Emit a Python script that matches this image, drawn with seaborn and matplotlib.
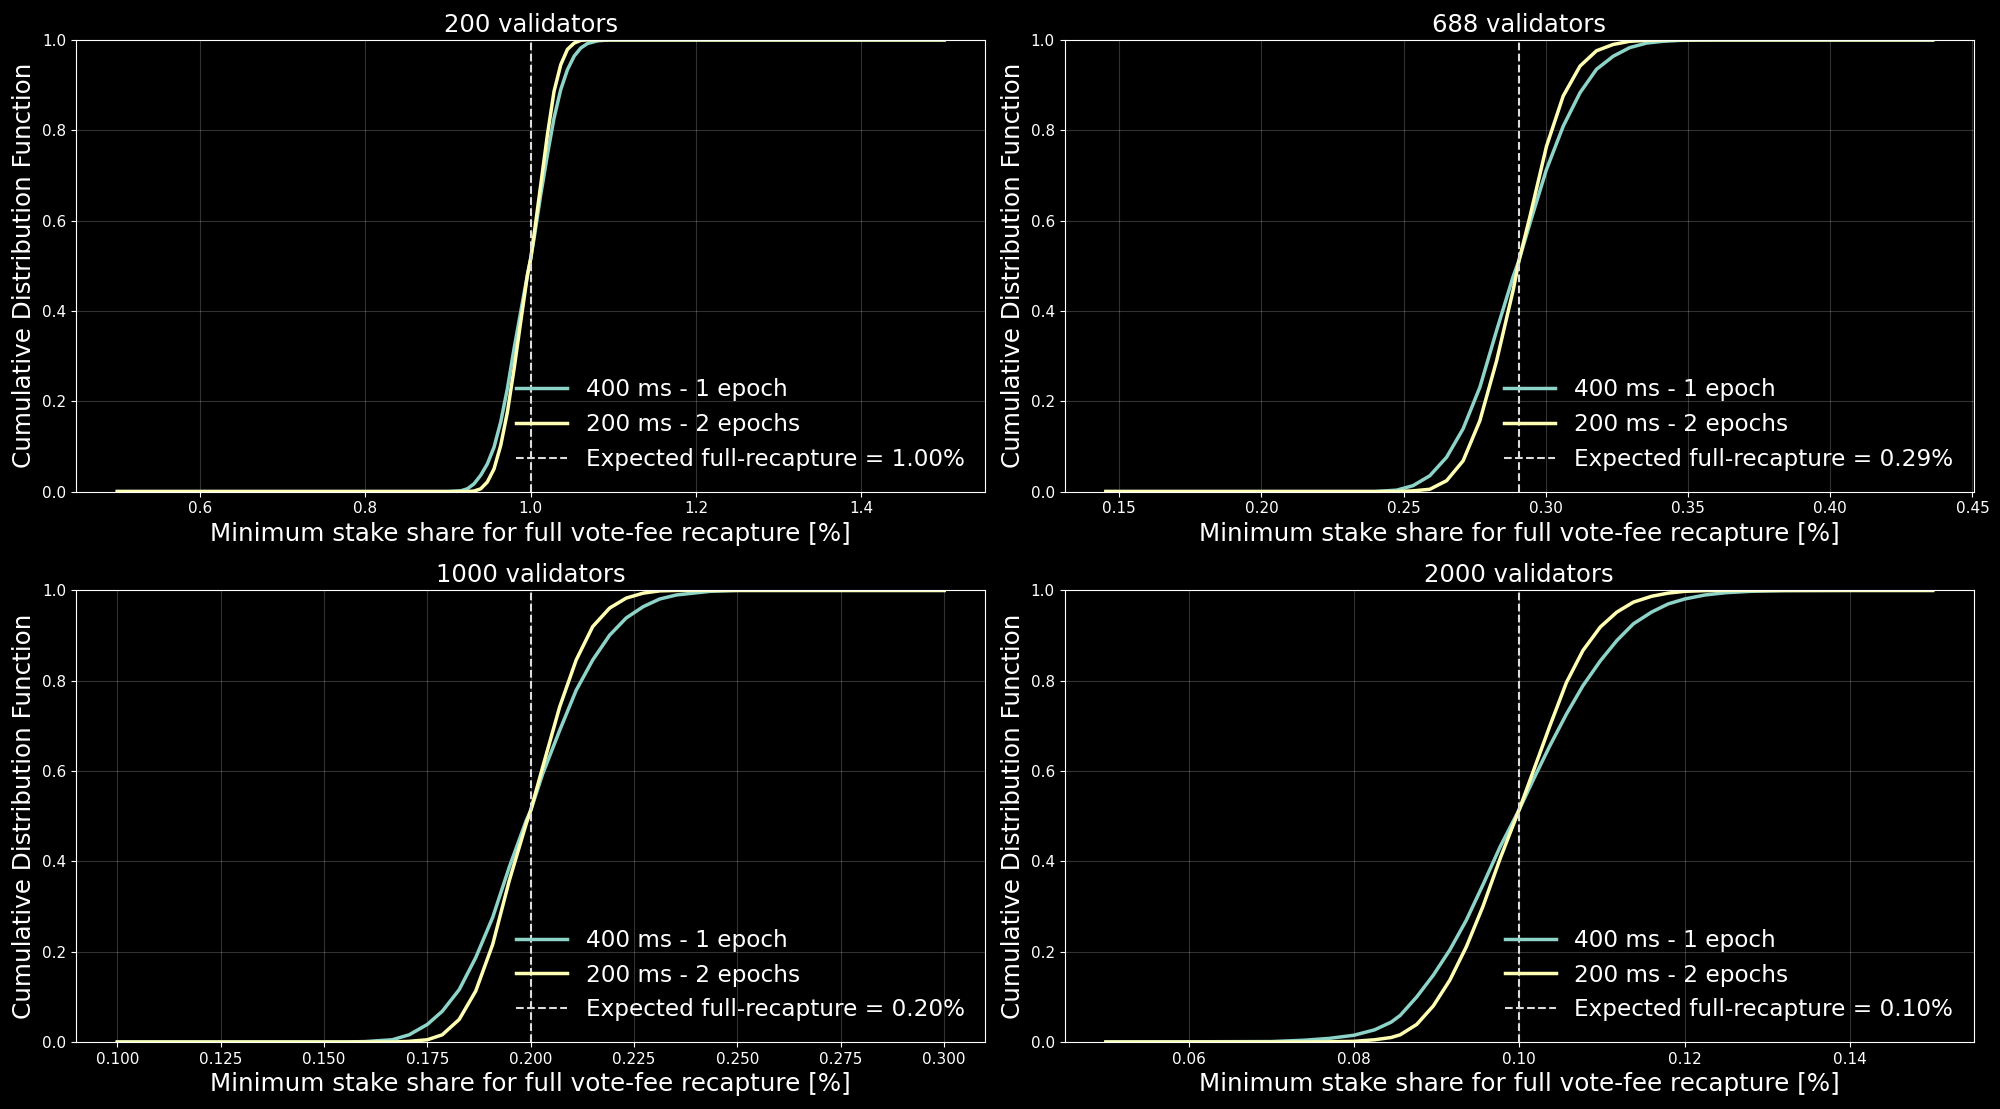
import matplotlib
matplotlib.use("agg")
import matplotlib.pyplot as plt
import seaborn as sns

plt.style.use("dark_background")

# panel titles and expected full-recapture stake share [%]
validadores = [200, 688, 1000, 2000]
esperado = [1.00, 0.2907, 0.20, 0.10]

etiqueta_400 = "400 ms - 1 epoch"
etiqueta_200 = "200 ms - 2 epochs"

# values, one x list + two CDF lists per panel
x_200 = [0.50, 0.900, 0.9153, 0.9233, 0.9314, 0.9395, 0.9475, 0.9556, 0.9637, 0.9718,
         0.9799, 0.9879, 0.9960, 1.0000, 1.0040, 1.0121, 1.0202, 1.0282, 1.0363,
         1.0444, 1.0525, 1.0605, 1.0686, 1.0807, 1.0950, 1.50]
cdf_400_200 = [0.0, 0.0, 0.0015, 0.006, 0.017, 0.036, 0.061, 0.098, 0.154, 0.228,
               0.317, 0.398, 0.479, 0.516, 0.560, 0.657, 0.746, 0.827, 0.890,
               0.934, 0.964, 0.982, 0.992, 0.998, 1.0, 1.0]
cdf_200_200 = [0.0, 0.0, 0.0, 0.0, 0.001, 0.006, 0.021, 0.050, 0.102, 0.176,
               0.272, 0.376, 0.479, 0.516, 0.568, 0.679, 0.790, 0.886, 0.945,
               0.979, 0.993, 0.999, 1.0, 1.0, 1.0, 1.0]

x_688 = [0.1453, 0.240, 0.2475, 0.2533, 0.2592, 0.2651, 0.2709, 0.2768, 0.2827, 0.2885,
         0.2906, 0.2944, 0.3002, 0.3061, 0.3120, 0.3178, 0.3237, 0.3295, 0.3354,
         0.3412, 0.3471, 0.360, 0.436]
cdf_400_688 = [0.0, 0.0, 0.003, 0.013, 0.035, 0.076, 0.139, 0.231, 0.357, 0.476,
               0.513, 0.594, 0.713, 0.809, 0.883, 0.935, 0.964, 0.983, 0.993,
               0.997, 0.999, 1.0, 1.0]
cdf_200_688 = [0.0, 0.0, 0.0, 0.0015, 0.005, 0.024, 0.068, 0.157, 0.290, 0.446,
               0.513, 0.609, 0.764, 0.876, 0.942, 0.976, 0.990, 0.997, 0.999,
               1.0, 1.0, 1.0, 1.0]

x_1000 = [0.100, 0.155, 0.160, 0.1665, 0.1706, 0.1750, 0.1786, 0.1827, 0.1867, 0.1908,
          0.1948, 0.1989, 0.2000, 0.2029, 0.2070, 0.2110, 0.2150, 0.2191, 0.2231,
          0.2272, 0.2312, 0.2353, 0.2434, 0.2500, 0.300]
cdf_400_1000 = [0.0, 0.0, 0.001, 0.005, 0.016, 0.039, 0.068, 0.116, 0.187, 0.276,
                0.387, 0.490, 0.513, 0.594, 0.690, 0.779, 0.846, 0.901, 0.939,
                0.964, 0.981, 0.990, 0.998, 1.0, 1.0]
cdf_200_1000 = [0.0, 0.0, 0.0, 0.0, 0.0015, 0.005, 0.016, 0.050, 0.113, 0.216,
                0.357, 0.483, 0.513, 0.609, 0.742, 0.846, 0.920, 0.961, 0.983,
                0.994, 0.999, 1.0, 1.0, 1.0, 1.0]

x_2000 = [0.050, 0.070, 0.074, 0.077, 0.080, 0.0825, 0.0845, 0.0856, 0.0876, 0.0896,
          0.0916, 0.0936, 0.0956, 0.0977, 0.1000, 0.1017, 0.1037, 0.1057, 0.1077,
          0.1098, 0.1118, 0.1138, 0.1160, 0.1180, 0.1200, 0.1225, 0.1250, 0.1280,
          0.1320, 0.1400, 0.150]
cdf_400_2000 = [0.0, 0.001, 0.004, 0.008, 0.015, 0.027, 0.044, 0.059, 0.100, 0.148,
                0.204, 0.270, 0.348, 0.433, 0.515, 0.581, 0.656, 0.726, 0.789,
                0.844, 0.889, 0.926, 0.952, 0.970, 0.981, 0.990, 0.995, 0.998,
                0.9995, 1.0, 1.0]
cdf_200_2000 = [0.0, 0.0, 0.0, 0.0005, 0.0015, 0.005, 0.010, 0.016, 0.039, 0.080,
                0.137, 0.211, 0.300, 0.407, 0.515, 0.600, 0.700, 0.796, 0.867,
                0.919, 0.952, 0.974, 0.987, 0.994, 0.998, 0.9995, 1.0, 1.0,
                1.0, 1.0, 1.0]

paneles = [
    (x_200, cdf_400_200, cdf_200_200),
    (x_688, cdf_400_688, cdf_200_688),
    (x_1000, cdf_400_1000, cdf_200_1000),
    (x_2000, cdf_400_2000, cdf_200_2000),
]

color_400 = "#8dd3c7"
color_200 = "#feffb3"

fig, axes = plt.subplots(2, 2, figsize=(20, 11.09), dpi=100)
fig.subplots_adjust(left=0.038, right=0.987, top=0.964, bottom=0.0604,
                    wspace=0.087, hspace=0.219)

for ax, n, e, (xs, c400, c200) in zip(axes.flat, validadores, esperado, paneles):
    sns.lineplot(x=xs, y=c400, ax=ax, color=color_400, lw=2.5, label=etiqueta_400,
                 estimator=None, sort=False)
    sns.lineplot(x=xs, y=c200, ax=ax, color=color_200, lw=2.5, label=etiqueta_200,
                 estimator=None, sort=False)
    ax.axvline(e, color="#dddddd", ls="--", lw=1.5,
               label=f"Expected full-recapture = {e:.2f}%")

    ax.set_ylim(0, 1)
    ax.set_title(f"{n} validators", fontsize=17.5)
    ax.set_xlabel("Minimum stake share for full vote-fee recapture [%]", fontsize=17.7)
    ax.set_ylabel("Cumulative Distribution Function", fontsize=17.7)
    ax.tick_params(labelsize=11)
    ax.grid(True, color="white", alpha=0.2, lw=0.8)
    ax.legend(loc="lower right", frameon=False, fontsize=16.7, handlelength=2.2)

plt.savefig("out.png", dpi=100)
